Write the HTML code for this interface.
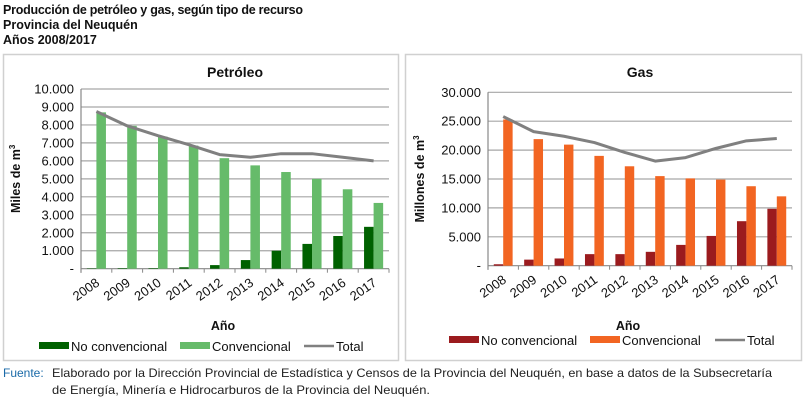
<!DOCTYPE html>
<html><head><meta charset="utf-8"><style>
html,body{margin:0;padding:0;background:#fff;}
svg{display:block;font-family:"Liberation Sans",sans-serif;}
</style></head><body>
<svg id="root" width="807" height="408" xmlns="http://www.w3.org/2000/svg">
<g font-weight="bold" font-size="12.5" fill="#111">
<text x="3" y="14" textLength="300">Producción de petróleo y gas, según tipo de recurso</text>
<text x="3" y="29">Provincia del Neuquén</text>
<text x="3" y="44">Años 2008/2017</text>
</g>
<rect x="3.5" y="54.5" width="395" height="306" fill="none" stroke="#d0d0d0" stroke-width="1.5"/>
<rect x="405.5" y="54.5" width="396" height="306" fill="none" stroke="#d0d0d0" stroke-width="1.5"/>
<g id="c1"></g>
<g id="c2"></g>
<g font-size="12">
<text x="3" y="377" fill="#1a6aa8">Fuente:</text>
<text x="52" y="377" fill="#222" textLength="720" lengthAdjust="spacingAndGlyphs">Elaborado por la Dirección Provincial de Estadística y Censos de la Provincia del Neuquén, en base a datos de la Subsecretaría</text>
<text x="52" y="394" fill="#222" textLength="378" lengthAdjust="spacingAndGlyphs">de Energía, Minería e Hidrocarburos de la Provincia del Neuquén.</text>
</g>
</svg>
<script>
const years = ["2008","2009","2010","2011","2012","2013","2014","2015","2016","2017"];
const oilNoConv = [20,30,30,80,200,480,1000,1380,1820,2330];
const oilConv = [8700,7950,7350,6850,6150,5750,5380,5000,4420,3660];
const oilTotal = [8750,7950,7400,6900,6350,6200,6400,6400,6200,6000];
const oilTicks = ["-","1.000","2.000","3.000","4.000","5.000","6.000","7.000","8.000","9.000","10.000"];
const gasNoConv = [250,1050,1250,2000,2000,2400,3600,5150,7700,9850];
const gasConv = [25300,21900,20950,19000,17200,15500,15100,14900,13750,12000];
const gasTotal = [25800,23200,22400,21300,19600,18100,18700,20300,21600,22000];
const gasTicks = ["-","5.000","10.000","15.000","20.000","25.000","30.000"];
const NS="http://www.w3.org/2000/svg";
function mk(p,t,a){const e=document.createElementNS(NS,t);for(const k in a)e.setAttribute(k,a[k]);p.appendChild(e);return e;}
function chart(g,o){
  const x0=o.x0,x1=o.x1,yTop=o.yTop,yBot=o.yBot,n=years.length,cw=(x1-x0)/n;
  const y=v=>yBot-(v/o.max)*(yBot-yTop);
  const xc=i=>x0+cw*(i+0.5);
  let t=mk(g,'text',{x:(x0+x1)/2,y:o.titleY,'text-anchor':'middle','font-weight':'bold','font-size':14,fill:'#111'});
  t.textContent=o.title;
  
  
  o.ticks.forEach((lab,k)=>{
    const v=k*o.step,yy=y(v);
    if(k>0){const l=mk(g,'line',{x1:x0,x2:x1,y1:yy,y2:yy,stroke:'#a6a6a6','stroke-width':1.2});
      
      }
    const tx=mk(g,'text',{x:x0-7,y:yy+4.5,'text-anchor':'end','font-size':13,fill:'#111'});
    tx.textContent=lab;
    
    
  });
  const ax=mk(g,'line',{x1:x0,x2:x1,y1:yBot,y2:yBot,stroke:'#888','stroke-width':1.2});
  
  
  const ay=mk(g,'line',{x1:x0,x2:x0,y1:yTop,y2:yBot+4,stroke:'#888','stroke-width':1.2});
  
  
  for(let i=0;i<=n;i++){const tk=mk(g,'line',{x1:x0+cw*i,x2:x0+cw*i,y1:yBot,y2:yBot+4,stroke:'#888'});
    
    }
  const bw=cw*0.31;
  years.forEach((yr,i)=>{
    const c=xc(i);
    const b1=mk(g,'rect',{x:c-bw,y:y(o.nc[i]),width:bw,height:yBot-y(o.nc[i]),fill:o.c1});
    
    
    const b2=mk(g,'rect',{x:c,y:y(o.cv[i]),width:bw,height:yBot-y(o.cv[i]),fill:o.c2});
    
    
    const lx=c+4,ly=yBot+16;
    const tl=mk(g,'text',{x:lx,y:ly,'text-anchor':'end','font-size':13,fill:'#111',transform:`rotate(-35 ${lx} ${ly})`});
    tl.textContent=yr;
    
    
  });
  const pts=o.tot.map((v,i)=>xc(i)+','+y(v)).join(' ');
  const pl=mk(g,'polyline',{points:pts,fill:'none',stroke:'#808080','stroke-width':3,'stroke-linejoin':'round'});
  
  
  const yt=mk(g,'text',{x:0,y:0,'text-anchor':'middle','font-weight':'bold','font-size':12.5,fill:'#111',transform:`translate(${o.ylabX} ${(yTop+yBot)/2}) rotate(-90)`});
  yt.innerHTML=o.ylab+'<tspan font-size="8" dy="-5">3</tspan>';
  
  
  const xt=mk(g,'text',{x:o.xlabX,y:o.xlabY,'text-anchor':'middle','font-weight':'bold','font-size':12.5,fill:'#111'});
  xt.textContent='Año';
  
  
  const ly=o.legY;
  const L=[[o.legX[0],'rect',o.c1,'No convencional','legend-no-convencional'],[o.legX[1],'rect',o.c2,'Convencional','legend-convencional'],[o.legX[2],'line','#808080','Total','legend-total']];
  L.forEach(d=>{
    const lg=mk(g,'g',{});
    
    
    if(d[1]=='rect')mk(lg,'rect',{x:d[0],y:ly-9,width:30,height:7,fill:d[2]});
    else mk(lg,'line',{x1:d[0],x2:d[0]+30,y1:ly-5,y2:ly-5,stroke:d[2],'stroke-width':2.5});
    const tt=mk(lg,'text',{x:d[0]+32,y:ly,'font-size':13,fill:'#111'});tt.textContent=d[3];
  });
}
chart(document.getElementById('c1'),{x0:81,x1:389,yTop:89,yBot:268.7,max:10000,step:1000,ticks:oilTicks,nc:oilNoConv,cv:oilConv,tot:oilTotal,c1:'#006100',c2:'#66bb6a',title:'Petróleo',titleY:77,ylab:'Miles de m',ylabX:20,xlabX:223,xlabY:330,legY:351,legX:[39,180,304]});
chart(document.getElementById('c2'),{x0:488,x1:792,yTop:92.3,yBot:265.7,max:30000,step:5000,ticks:gasTicks,nc:gasNoConv,cv:gasConv,tot:gasTotal,c1:'#9b1b1e',c2:'#f26522',title:'Gas',titleY:77,ylab:'Millones de m',ylabX:424,xlabX:628,xlabY:330,legY:345,legX:[449,590,715]});
</script>
</body></html>
